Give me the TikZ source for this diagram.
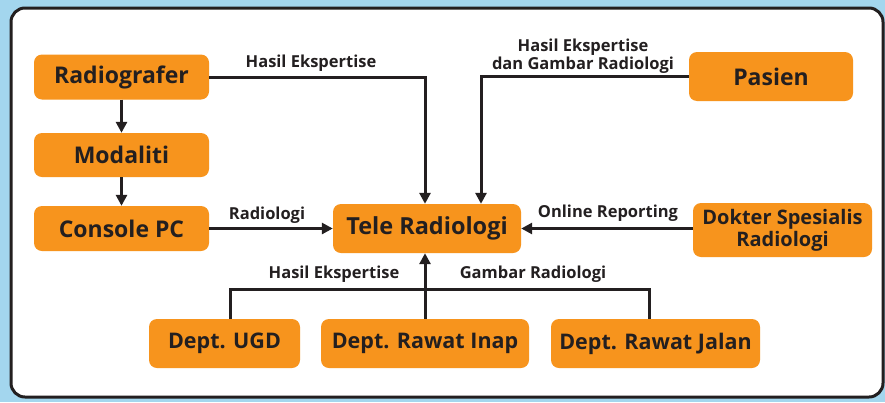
\documentclass[tikz,border=0pt]{standalone}
\usepackage{fontspec}
\setmainfont{Open Sans}
\usetikzlibrary{arrows.meta,calc}
\definecolor{bgblue}{HTML}{A3D6EE}
\definecolor{boxorange}{HTML}{F7941D}
\definecolor{txt}{HTML}{231F20}
\tikzset{
  box/.style={fill=boxorange,rounded corners=8pt,text=txt,font=\fontsize{23}{23}\selectfont\bfseries,inner sep=0pt,align=center},
  dept/.style={box,font=\fontsize{21.5}{22}\selectfont\bfseries},
  lbl/.style={text=txt,font=\fontsize{16.5}{15.5}\selectfont\bfseries,inner sep=0pt,align=center},
  conn/.style={line width=3pt,draw=txt},
  arr/.style={conn,-{Triangle[length=11pt,width=11pt]}}
}
\begin{document}
\begin{tikzpicture}[x=1pt,y=-1pt]
\useasboundingbox (0,0) rectangle (885,402);
\fill[bgblue] (0,0) rectangle (885,402);
\draw[line width=3pt,draw=txt,fill=white,rounded corners=14pt] (11,8) rectangle (883,397);

\node[box,minimum width=175pt,minimum height=45pt] (rad) at (121.5,77) {Radiografer};
\node[box,minimum width=175pt,minimum height=44pt] (mod) at (121.5,155) {Modaliti};
\node[box,minimum width=175pt,minimum height=45pt] (con) at (121.5,228.5) {Console PC};
\node[box,minimum width=188pt,minimum height=49pt,font=\fontsize{23.5}{24}\selectfont\bfseries] (tele) at (427,228.5) {Tele Radiologi};
\node[box,minimum width=164pt,minimum height=49pt] (pas) at (771,76.5) {Pasien};
\node[box,minimum width=179pt,minimum height=54pt,font=\fontsize{20}{22}\selectfont\bfseries] (dok) at (782.5,230) {Dokter Spesialis\\Radiologi};
\node[dept,minimum width=151pt,minimum height=49pt] (ugd) at (224.5,343.5) {Dept. UGD};
\node[dept,minimum width=208pt,minimum height=49pt] (inap) at (425,343.5) {Dept. Rawat Inap};
\node[dept,minimum width=209pt,minimum height=49pt] (jal) at (655.5,343.5) {Dept. Rawat Jalan};

\coordinate (j1) at (425,77);
\coordinate (j2) at (481,76.5);
\coordinate (b1) at (230,289);
\coordinate (b2) at (649,289);

\draw[arr] (rad.south) -- (mod.north);
\draw[arr] (mod.south) -- (con.north);
\draw[arr] (rad.east) -- (j1) -- (j1 |- tele.north);
\draw[arr] (pas.west) -- (j2) -- (j2 |- tele.north);
\draw[arr] (con.east) -- (tele.west);
\draw[arr] (dok.west |- tele.east) -- (tele.east);
\draw[conn] (ugd.north -| b1) -- (b1) -- (b2) -- (jal.north -| b2);
\draw[arr] (inap.north) -- (inap.north |- tele.south);

\node[lbl] (l1) at (311,63) {Hasil Ekspertise};
\node[lbl] (l2) at (583,56) {Hasil Ekspertise\\dan Gambar Radiologi};
\node[lbl] (l3) at (267,215) {Radiologi};
\node[lbl] (l4) at (608,213) {Online Reporting};
\node[lbl] (l5) at (334,274) {Hasil Ekspertise};
\node[lbl] (l6) at (533,274) {Gambar Radiologi};
\end{tikzpicture}
\end{document}
